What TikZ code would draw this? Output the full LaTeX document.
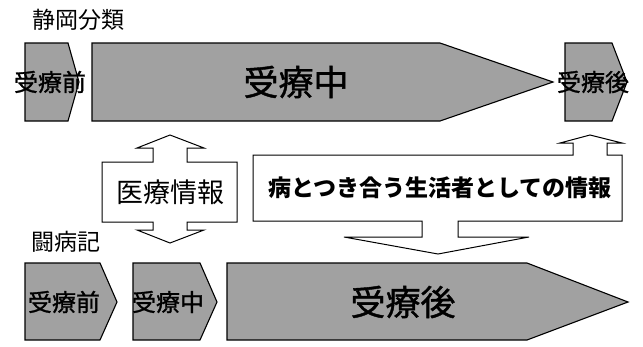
\documentclass[tikz,border=0pt]{standalone}
\usepackage{fontspec}
\setmainfont{Noto Sans CJK JP}
\newfontfamily\heavyjp[FakeBold=1.2]{Noto Sans CJK JP}
\begin{document}
\begin{tikzpicture}[x=1pt,y=-1pt,
  stage/.style={draw=black,line width=1.1pt,fill=black!37,line join=miter},
  outl/.style={draw=black,line width=1pt,fill=white,line join=miter},
  txt/.style={inner sep=0pt,font=\fontsize{#1}{#1}\selectfont},
  txt/.default=23,
  stxt/.style={inner sep=0pt,font=\heavyjp\fontsize{#1}{#1}\selectfont}]
\useasboundingbox (0,0) rectangle (643,346);
% titles
\node[txt=23,anchor=west] (t1) at (32,20) {静岡分類};
\node[txt=23,anchor=west] (t2) at (31,242) {闘病記};
% top row
\path[stage] (25,43) -- (68,43) -- (79,82) -- (68,121) -- (25,121) -- cycle;
\path[stage] (92,43) -- (440,43) -- (553,82) -- (440,121) -- (92,121) -- cycle;
\path[stage] (565,43) -- (612,43) -- (627,82) -- (612,121) -- (565,121) -- cycle;
\node[stxt=24] (a1) at (50,82) {受療前};
\node[stxt=35] (a2) at (296,82) {受療中};
\node[stxt=24] (a3) at (593,82) {受療後};
% double arrow medical info
\path[outl] (170,135) -- (204,148) -- (187,148) -- (187,162) -- (237,162) -- (237,222)
  -- (187,222) -- (187,230) -- (204,230) -- (170,243) -- (137,230) -- (153,230)
  -- (153,222) -- (102,222) -- (102,162) -- (153,162) -- (153,148) -- (137,148) -- cycle;
\node[txt=27] (m) at (170,192) {医療情報};
% life info box with arrows
\path[outl] (253,155) -- (573,155) -- (573,143) -- (560,143) -- (590,135) -- (622,143)
  -- (607,143) -- (607,155) -- (622,155) -- (622,221) -- (458,221) -- (458,237)
  -- (529,237) -- (438,254) -- (344,237) -- (422,237) -- (422,221) -- (253,221) -- cycle;
\node[txt=23,font=\fontsize{23}{23}\selectfont\bfseries] (l) at (440,188) {病とつき合う生活者としての情報};
% bottom row
\path[stage] (25,263) -- (100,263) -- (117,302) -- (100,340) -- (25,340) -- cycle;
\path[stage] (133,263) -- (200,263) -- (217,302) -- (200,340) -- (133,340) -- cycle;
\path[stage] (227,263) -- (527,263) -- (628,302) -- (527,340) -- (227,340) -- cycle;
\node[stxt=24] (b1) at (64,302) {受療前};
\node[stxt=24] (b2) at (168,302) {受療中};
\node[stxt=35] (b3) at (403,302) {受療後};
\end{tikzpicture}
\end{document}
